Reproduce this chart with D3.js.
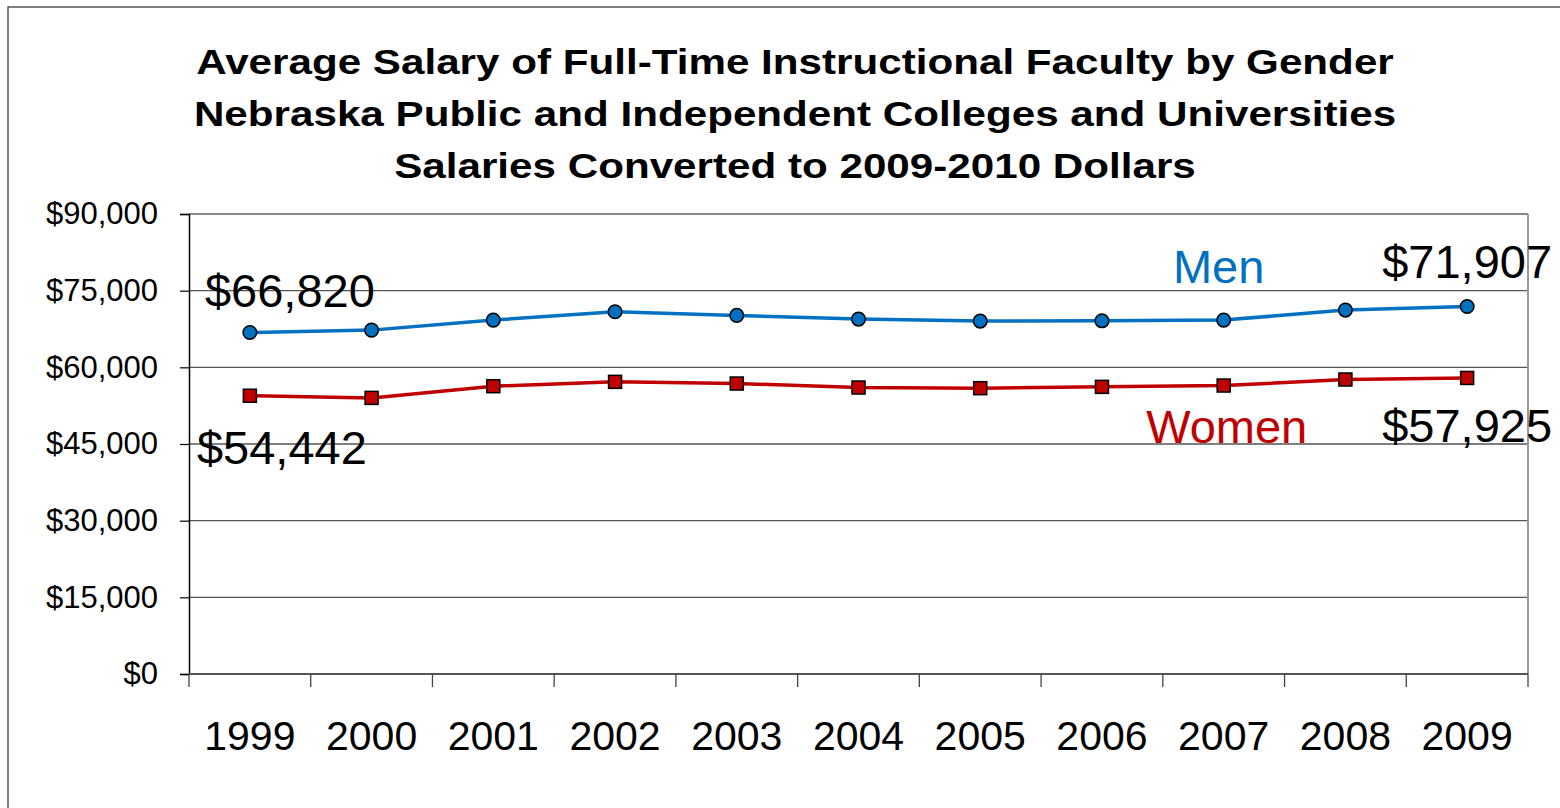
<!doctype html>
<html lang="en">
  <head>
    <meta charset="utf-8">
    <script src="https://cdn.jsdelivr.net/npm/d3@7"></script>
    <style>
body {
	margin: 0;
	background: #fff;
}
svg text {
	font-family: Arial, "Liberation Sans", sans-serif;
}
    </style>
  </head>
  <body>
    <svg id="chart" width="1560" height="808"></svg>
    <script type="text/javascript">
//=============================== DATA ===================================
var years	= ['1999','2000','2001','2002','2003','2004','2005','2006','2007','2008','2009']
var men		= [66820, 67280, 69240, 70870, 70160, 69440, 69050, 69100, 69240, 71200, 71907]
var women	= [54442, 54020, 56310, 57160, 56830, 56050, 55920, 56180, 56440, 57620, 57925]
var yTicks	= [0, 15000, 30000, 45000, 60000, 75000, 90000]
var titleLines = [
	'Average Salary of Full-Time Instructional Faculty by Gender',
	'Nebraska Public and Independent Colleges and Universities',
	'Salaries Converted to 2009-2010 Dollars'
]
var blue	= '#0070C0'
var red		= '#C00000'

//=============================== DRAW ===================================
var svg = d3.select('#chart')
var pLeft = 189, pRight = 1528, pTop = 214, pBottom = 674

var x = d3.scaleBand().domain(years).range([pLeft, pRight]).padding(0)
var y = d3.scaleLinear().domain([0, 90000]).range([pBottom, pTop])
var cx = function(i) { return x(years[i]) + x.bandwidth() / 2 }

// outer frame
svg.append('rect')
	.attr('x', 8).attr('y', 7)
	.attr('width', 1600).attr('height', 900)
	.attr('fill', 'none').attr('stroke', '#555').attr('stroke-width', 1.5)

// title (the original is drawn a bit wider than normal Arial bold)
svg.append('g')
	.attr('transform', 'translate(795,0) scale(1.205,1)')
	.selectAll('text')
	.data(titleLines).enter()
	.append('text')
	.attr('x', 0)
	.attr('y', function(d, i) { return 74 + i * 52 })
	.attr('text-anchor', 'middle')
	.attr('font-size', '35px')
	.attr('font-weight', 'bold')
	.text(function(d) { return d })

// grid
svg.append('g').selectAll('line')
	.data(yTicks.slice(1)).enter()
	.append('line')
	.attr('x1', pLeft).attr('x2', pRight)
	.attr('y1', function(d) { return y(d) }).attr('y2', function(d) { return y(d) })
	.attr('stroke', function(d) { return d == 90000 ? '#888' : '#555' })
	.attr('stroke-width', function(d) { return d == 90000 ? 2 : 1.3 })

// right border
svg.append('line')
	.attr('x1', pRight).attr('x2', pRight).attr('y1', pTop).attr('y2', pBottom)
	.attr('stroke', '#999').attr('stroke-width', 2)

// y axis
var yAxis = svg.append('g')
	.attr('transform', 'translate(' + pLeft + ',0)')
	.call(d3.axisLeft(y).tickValues(yTicks).tickFormat(d3.format('$,')).tickSize(9).tickPadding(22))
yAxis.select('.domain').attr('stroke', '#000').attr('stroke-width', 1.5)
yAxis.selectAll('.tick line').attr('stroke', '#000').attr('stroke-width', 1.2)
yAxis.selectAll('.tick text').attr('font-size', '31px').attr('fill', '#000')
	.attr('font-family', 'Arial, "Liberation Sans", sans-serif')

// x axis line + ticks at band edges
svg.append('line')
	.attr('x1', pLeft).attr('x2', pRight).attr('y1', pBottom).attr('y2', pBottom)
	.attr('stroke', '#555').attr('stroke-width', 2)
var edges = years.map(function(d) { return x(d) }).concat([pRight])
svg.append('g').selectAll('line')
	.data(edges).enter()
	.append('line')
	.attr('x1', function(d) { return d }).attr('x2', function(d) { return d })
	.attr('y1', pBottom).attr('y2', pBottom + 13)
	.attr('stroke', '#444').attr('stroke-width', 1.3)
svg.append('g').selectAll('text')
	.data(years).enter()
	.append('text')
	.attr('x', function(d, i) { return cx(i) })
	.attr('y', 750)
	.attr('text-anchor', 'middle')
	.attr('font-size', '41px')
	.text(function(d) { return d })

// lines
var line = d3.line()
	.x(function(d, i) { return cx(i) })
	.y(function(d) { return y(d) })

svg.append('path').datum(men)
	.attr('d', line).attr('fill', 'none')
	.attr('stroke', blue).attr('stroke-width', 3.5)
svg.append('path').datum(women)
	.attr('d', line).attr('fill', 'none')
	.attr('stroke', red).attr('stroke-width', 3.5)

svg.append('g').selectAll('circle')
	.data(men).enter()
	.append('circle')
	.attr('cx', function(d, i) { return cx(i) })
	.attr('cy', function(d) { return y(d) })
	.attr('r', 6.8)
	.attr('fill', blue).attr('stroke', '#000').attr('stroke-width', 1.5)

svg.append('g').selectAll('rect')
	.data(women).enter()
	.append('rect')
	.attr('x', function(d, i) { return cx(i) - 6.5 })
	.attr('y', function(d) { return y(d) - 6.5 })
	.attr('width', 13).attr('height', 13)
	.attr('fill', red).attr('stroke', '#000').attr('stroke-width', 1.5)

// labels
var fmt = d3.format('$,')
var last = years.length - 1
var labels = [
	{ t: fmt(men[0]),		x: cx(0) + 40,		y: y(men[0]) - 25,		c: '#000' },
	{ t: fmt(women[0]),		x: cx(0) + 32,		y: y(women[0]) + 68,	c: '#000' },
	{ t: fmt(men[last]),	x: cx(last),		y: y(men[last]) - 28,	c: '#000' },
	{ t: fmt(women[last]),	x: cx(last),		y: y(women[last]) + 64,	c: '#000' },
	{ t: 'Men',				x: cx(8) - 5,		y: 283,					c: blue },
	{ t: 'Women',			x: cx(8) + 3,		y: 443,					c: red }
]
svg.append('g').selectAll('text')
	.data(labels).enter()
	.append('text')
	.attr('x', function(d) { return d.x })
	.attr('y', function(d) { return d.y })
	.attr('text-anchor', 'middle')
	.attr('font-size', '47px')
	.attr('fill', function(d) { return d.c })
	.text(function(d) { return d.t })
    </script>
  </body>
</html>
